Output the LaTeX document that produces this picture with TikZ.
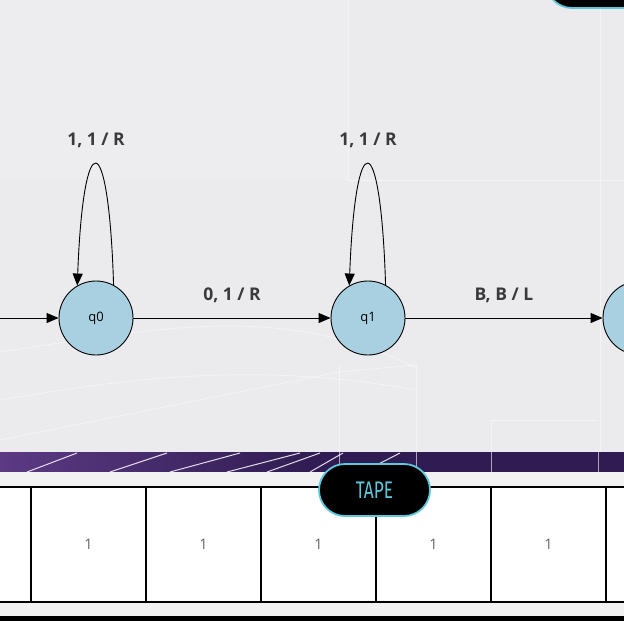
\documentclass[tikz,border=0pt]{standalone}
\usepackage{fontspec}
\setmainfont{Open Sans}
\newfontfamily\tapefont{Fira Sans}
\usetikzlibrary{arrows.meta,shapes.geometric}
\definecolor{bgc}{RGB}{235,234,237}
\definecolor{statec}{RGB}{168,208,224}
\definecolor{labc}{RGB}{58,58,58}
\definecolor{cyanc}{RGB}{92,200,222}
\definecolor{purpA}{RGB}{92,58,132}
\definecolor{purpB}{RGB}{48,28,82}
\definecolor{stripc}{RGB}{242,242,242}
\definecolor{digc}{RGB}{105,100,95}
\tikzset{
  state/.style={circle,draw=black,line width=0.9pt,fill=statec,minimum size=74pt,inner sep=0pt,font=\fontsize{13}{15}\selectfont},
  elabel/.style={font=\bfseries\fontsize{17.5}{19}\selectfont,text=labc,inner sep=0pt},
  trans/.style={line width=0.9pt,-{Triangle[length=12pt,width=10pt]}},
  cell/.style={draw=black,line width=1.3pt,fill=white,minimum width=115pt,minimum height=115pt,inner sep=0pt,text=digc,font=\fontsize{14.5}{16}\selectfont},
  pill/.style={fill=black,draw=cyanc,line width=1.8pt,rounded corners=26pt},
  deco/.style={white,line width=0.8pt,opacity=0.45}
}
\begin{document}
\begin{tikzpicture}[x=1pt,y=-1pt]
\useasboundingbox (0,0) rectangle (624,621);
% background
\fill[bgc] (0,0) rectangle (624,452);
\fill[white,opacity=0.12] (0,0) rectangle (348,180);
% decorative faint lines
\draw[deco] (348,0) -- (348,180) -- (624,180);
\draw[deco] (600,0) -- (600,452);
\draw[deco] (0,352) .. controls (150,330) and (280,300) .. (416,368);
\draw[deco] (0,400) .. controls (120,380) and (250,360) .. (416,390);
\draw[deco] (0,440) -- (339,372) -- (416,365);
\draw[deco] (339,365) -- (339,452);
\draw[deco] (416,365) -- (416,452);
\draw[deco] (491,420) -- (491,452);
\draw[deco] (491,420) -- (598,420);
% purple band
\shade[left color=purpA,right color=purpB,middle color=purpB] (0,452) rectangle (624,472);
\begin{scope}[white,line width=1pt,opacity=0.85]
\draw (27,472) -- (77,453);
\draw (110,472) -- (167,453);
\draw (170,472) -- (240,453);
\draw (227,472) -- (300,453);
\draw (267,472) -- (320,453);
\draw (310,472) -- (343,453);
\draw (367,470) -- (400,453);
\draw[opacity=0.6] (339,452) -- (339,472);
\draw[opacity=0.6] (416,452) -- (416,472);
\draw[opacity=0.6] (491,452) -- (491,472);
\draw[opacity=0.6] (598,452) -- (598,472);
\end{scope}
% strips
\fill[stripc] (0,472) rectangle (624,616);
\fill[black] (0,616) rectangle (624,621);
% tape cells
\node[cell] (c0) at (-26.5,544.5) {};
\node[cell] (c1) at (88.5,544.5) {1};
\node[cell] (c2) at (203.5,544.5) {1};
\node[cell] (c3) at (318.5,544.5) {1};
\node[cell] (c4) at (433.5,544.5) {1};
\node[cell] (c5) at (548.5,544.5) {1};
\node[cell] (c6) at (663.5,544.5) {};
% tape label
\draw[pill] (319,464) rectangle (430,516);
\node[text=cyanc,inner sep=0pt] (tape) at (374.5,490) {\scalebox{0.72}[1]{\tapefont\fontsize{24}{26}\selectfont TAPE}};
% top right pill
\draw[pill] (546,-50) rectangle (690,8);
% states
\node[state] (q0) at (96,318) {q0};
\node[state] (q1) at (368,318) {q1};
\node[state] (q2) at (640,318) {};
\coordinate (start) at (-10,318);
% transitions
\draw[trans] (start) -- (q0);
\draw[trans] (q0) -- node[elabel,yshift=23pt] (l01) {0, 1 / R} (q1);
\draw[trans] (q1) -- node[elabel,yshift=23pt] (l12) {B, B / L} (q2);
\draw[trans] (q0.62) .. controls +(-5,-161) and +(6,-161) .. (q0.120);
\draw[trans] (q1.62) .. controls +(-5,-161) and +(6,-161) .. (q1.120);
\node[elabel] (l00) at (96,140) {1, 1 / R};
\node[elabel] (l11) at (368,140) {1, 1 / R};
\end{tikzpicture}
\end{document}
